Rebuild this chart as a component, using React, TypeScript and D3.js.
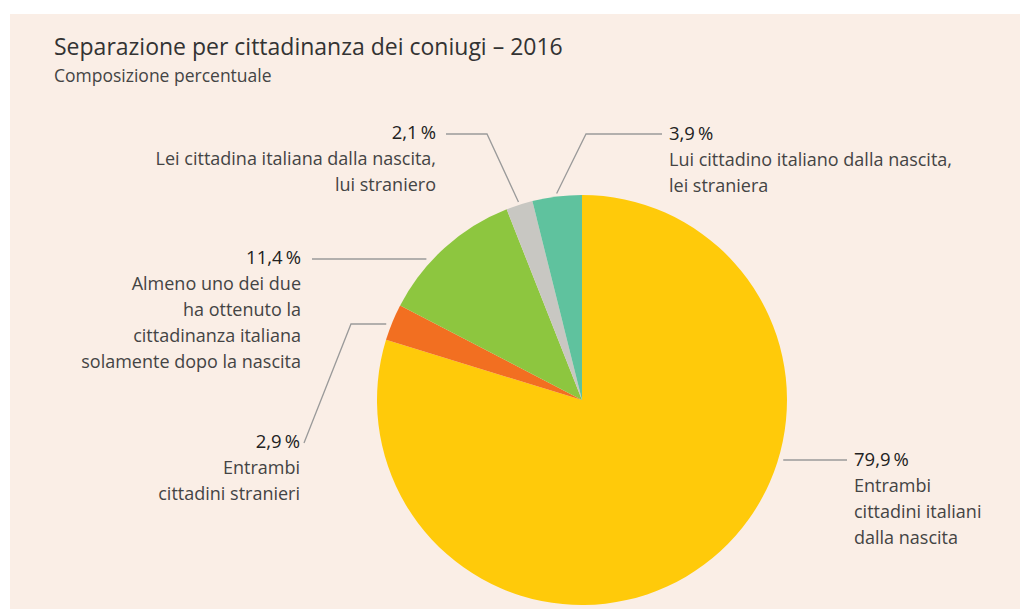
import React from "react";
import * as d3 from "d3";

const categories = [
  "Entrambi cittadini italiani dalla nascita",
  "Entrambi cittadini stranieri",
  "Almeno uno dei due ha ottenuto la cittadinanza italiana solamente dopo la nascita",
  "Lei cittadina italiana dalla nascita, lui straniero",
  "Lui cittadino italiano dalla nascita, lei straniera",
];
const values = [79.9, 2.9, 11.4, 2.1, 3.9];
const valueLabels = ["79,9\u2009%", "2,9\u2009%", "11,4\u2009%", "2,1\u2009%", "3,9\u2009%"];
const labelLines = [
  ["Entrambi", "cittadini italiani", "dalla nascita"],
  ["Entrambi", "cittadini stranieri"],
  ["Almeno uno dei due", "ha ottenuto la", "cittadinanza italiana", "solamente dopo la nascita"],
  ["Lei cittadina italiana dalla nascita,", "lui straniero"],
  ["Lui cittadino italiano dalla nascita,", "lei straniera"],
];
const colors = ["#FFCA0A", "#F26F21", "#8DC63F", "#C8C7C2", "#5FC29E"];

const W = 1020;
const H = 610;
const cx = 582;
const cy = 400;
const R = 205;
const FONT = "'Open Sans', 'Noto Sans', sans-serif";

type Layout = {
  tx: number;
  ty: number;
  anchor: "start" | "end";
  kind: "h" | "c";
  ly?: number;
  ex: number;
  ey?: number;
  endx?: number;
  endy?: number;
};
const layouts: Layout[] = [
  { tx: 854, ty: 466, anchor: "start", kind: "h", ly: 460, ex: 847 },
  { tx: 300, ty: 448, anchor: "end", kind: "h", ly: 324, ex: 351, endx: 304, endy: 443 },
  { tx: 301, ty: 264, anchor: "end", kind: "h", ly: 259, ex: 312 },
  { tx: 436, ty: 139, anchor: "end", kind: "c", ex: 487, ey: 134, endx: 446, endy: 134 },
  { tx: 669, ty: 140, anchor: "start", kind: "c", ex: 586, ey: 134, endx: 662, endy: 134 },
];

export default function App() {
  const pie = d3
    .pie<number>()
    .sort(null)
    .value((d) => d)
    .startAngle(0)
    .endAngle(2 * Math.PI);
  const arcs = pie(values);
  const arc = d3.arc<d3.PieArcDatum<number>>().innerRadius(0).outerRadius(R);
  const line = d3.line();

  const leaders = arcs.map((a, i) => {
    const L = layouts[i];
    const pts: [number, number][] = [];
    if (L.kind === "h") {
      const dy = (L.ly as number) - cy;
      const side = L.anchor === "start" ? 1 : -1;
      const sx = cx + side * Math.sqrt((R + 5) ** 2 - dy * dy);
      pts.push([sx, L.ly as number]);
      pts.push([L.ex, L.ly as number]);
      if (L.endx !== undefined) pts.push([L.endx, L.endy as number]);
    } else {
      const mid = (a.startAngle + a.endAngle) / 2;
      const rr = R + 3;
      pts.push([cx + rr * Math.sin(mid), cy - rr * Math.cos(mid)]);
      pts.push([L.ex, L.ey as number]);
      pts.push([L.endx as number, L.endy as number]);
    }
    return line(pts) as string;
  });

  return (
    <svg width={W} height={H} style={{ position: "absolute", left: 0, top: 0 }}>
      <rect x={0} y={0} width={W} height={H} fill="#ffffff" />
      <rect x={10} y={14} width={W - 10} height={595} fill="#FAEEE6" />
      <text x={54} y={55} fontFamily={FONT} fontSize={23} fill="#333">
        Separazione per cittadinanza dei coniugi – 2016
      </text>
      <text x={54} y={82} fontFamily={FONT} fontSize={17.5} fill="#444">
        Composizione percentuale
      </text>
      <g transform={`translate(${cx},${cy})`}>
        {arcs.map((a, i) => (
          <path key={i} d={arc(a) as string} fill={colors[i]} stroke="none" />
        ))}
      </g>
      {leaders.map((d, i) => (
        <path key={i} d={d} fill="none" stroke="#9a9a9a" strokeWidth={1.3} />
      ))}
      {layouts.map((L, i) => (
        <g key={i} fontFamily={FONT} textAnchor={L.anchor}>
          <text x={L.tx} y={L.ty} fontSize={18.5} fill="#222">
            {valueLabels[i]}
          </text>
          {labelLines[i].map((t, j) => (
            <text key={j} x={L.tx} y={L.ty + 26 * (j + 1)} fontSize={18} fill="#444">
              {t}
            </text>
          ))}
        </g>
      ))}
    </svg>
  );
}
